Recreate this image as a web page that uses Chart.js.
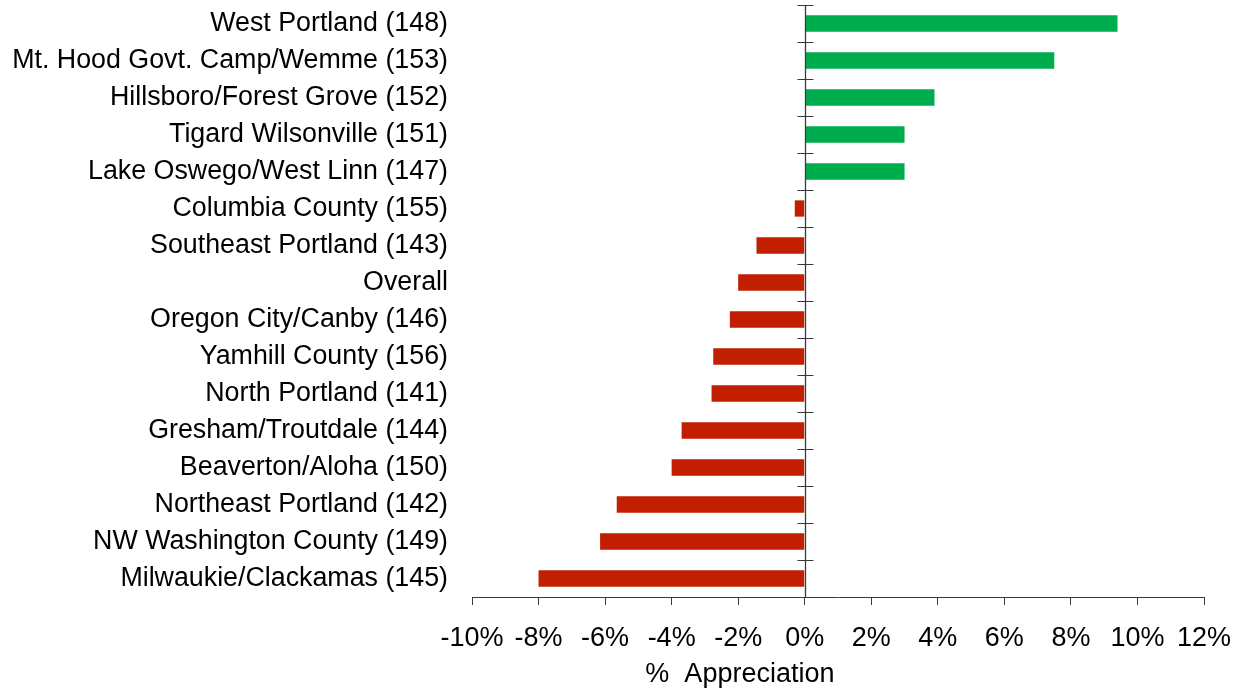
<!DOCTYPE html>
<html>
<head>
<meta charset="utf-8">
<script src="https://cdn.jsdelivr.net/npm/chart.js@4/dist/chart.umd.min.js"></script>
<style>
  html, body { margin: 0; padding: 0; background: #ffffff; }
  #wrap { width: 1241px; height: 688px; }
</style>
</head>
<body>
<div id="wrap"><canvas id="c" width="1241" height="688"></canvas></div>
<script>
const categories = [
  "West Portland (148)",
  "Mt. Hood Govt. Camp/Wemme (153)",
  "Hillsboro/Forest Grove (152)",
  "Tigard Wilsonville (151)",
  "Lake Oswego/West Linn (147)",
  "Columbia County (155)",
  "Southeast Portland (143)",
  "Overall",
  "Oregon City/Canby (146)",
  "Yamhill County (156)",
  "North Portland (141)",
  "Gresham/Troutdale (144)",
  "Beaverton/Aloha (150)",
  "Northeast Portland (142)",
  "NW Washington County (149)",
  "Milwaukie/Clackamas (145)"
];
const appreciation = [9.4, 7.5, 3.9, 3.0, 3.0, -0.3, -1.45, -2.0, -2.25, -2.75, -2.8, -3.7, -4.0, -5.65, -6.15, -8.0];
const xTicks = [-10, -8, -6, -4, -2, 0, 2, 4, 6, 8, 10, 12];
const axisTitle = "%  Appreciation";

const GREEN = "#00AD4E";
const RED = "#C21E00";
const AXIS = "#3a3a3a";
const FONT = "'Liberation Sans', Arial, sans-serif";

const zeroAxisPlugin = {
  id: "zeroAxis",
  afterDatasetsDraw(chart) {
    const { ctx, chartArea, scales } = chart;
    const x = scales.x, y = scales.y;
    const x0 = Math.round(x.getPixelForValue(0)) + 0.5;
    const n = y.ticks.length;
    const step = (chartArea.bottom - chartArea.top) / n;
    ctx.save();
    ctx.strokeStyle = AXIS;
    ctx.lineWidth = 1.3;
    ctx.beginPath();
    ctx.moveTo(x0, chartArea.top);
    ctx.lineTo(x0, chartArea.bottom);
    ctx.stroke();
    ctx.lineWidth = 1;
    ctx.beginPath();
    for (let i = 0; i < n; i++) {
      const yy = Math.round(chartArea.top + i * step) + 0.5;
      ctx.moveTo(x0 - 8, yy);
      ctx.lineTo(x0 + 8, yy);
    }
    ctx.stroke();
    // axis title
    ctx.fillStyle = "#000";
    ctx.font = "27px " + FONT;
    ctx.textAlign = "center";
    ctx.textBaseline = "alphabetic";
    const tx = chartArea.left + (chartArea.right - chartArea.left) * 0.366;
    ctx.fillText(axisTitle, tx, chartArea.bottom + 85);
    ctx.restore();
  }
};

new Chart(document.getElementById("c"), {
  type: "bar",
  data: {
    labels: categories,
    datasets: [{
      data: appreciation,
      backgroundColor: appreciation.map(v => v >= 0 ? GREEN : RED),
      borderWidth: 0,
      categoryPercentage: 1.0,
      barPercentage: 0.44
    }]
  },
  options: {
    indexAxis: "y",
    responsive: false,
    animation: false,
    layout: { padding: { top: 5, right: 37, left: 0, bottom: 0 } },
    plugins: {
      legend: { display: false },
      tooltip: { enabled: false },
      title: { display: false }
    },
    scales: {
      x: {
        type: "linear",
        min: -10,
        max: 12,
        afterBuildTicks(scale) { scale.ticks = xTicks.map(v => ({ value: v })); },
        afterFit(scale) {
          scale.height = 91;
          scale.paddingLeft = 0; scale.paddingRight = 0;
          scale.paddingTop = 0; scale.paddingBottom = 0;
        },
        border: { display: true, color: AXIS, width: 1 },
        grid: { display: true, drawOnChartArea: false, drawTicks: true, tickLength: 8, color: AXIS },
        ticks: {
          callback: v => v + "%",
          color: "#000",
          padding: 17,
          maxRotation: 0,
          font: { family: FONT, size: 27 }
        }
      },
      y: {
        type: "category",
        afterFit(scale) {
          scale.width = 472;
          scale.paddingLeft = 0; scale.paddingRight = 0;
          scale.paddingTop = 0; scale.paddingBottom = 0;
        },
        border: { display: false },
        grid: { display: false, drawTicks: false },
        ticks: {
          color: "#000",
          padding: 24,
          autoSkip: false,
          font: { family: FONT, size: 26.8 }
        }
      }
    }
  },
  plugins: [zeroAxisPlugin]
});
</script>
</body>
</html>
